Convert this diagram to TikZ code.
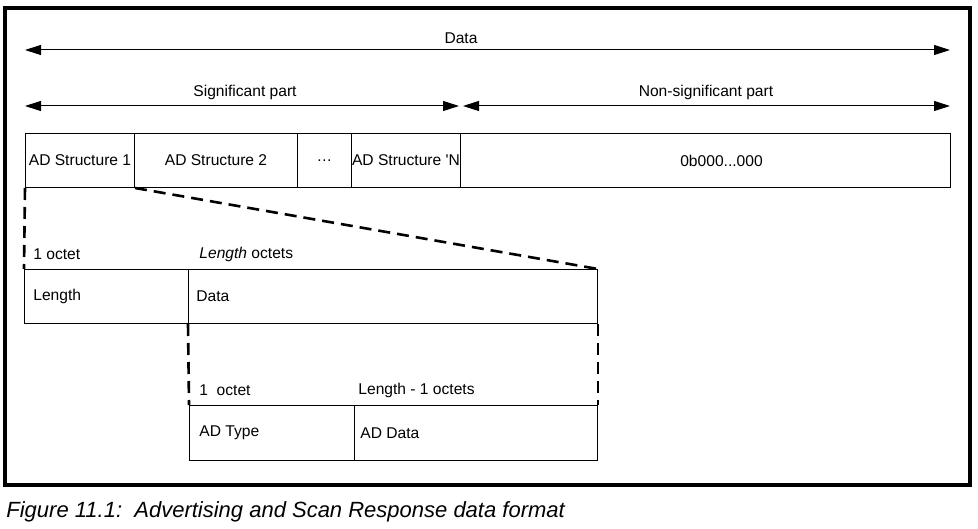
\documentclass[tikz,border=0pt]{standalone}
\usepackage{fontspec}
\setmainfont{Liberation Sans}
\usetikzlibrary{arrows.meta}
\tikzset{
  box/.style={draw,line width=0.5pt,inner sep=0pt,anchor=north west,font=\fontsize{7.8}{9}\selectfont},
  lbl/.style={anchor=west,inner sep=0pt,font=\fontsize{7.8}{9}\selectfont},
  zoomline/.style={line width=1.3pt,dash pattern=on 6pt off 3.5pt},
  span/.style={{Triangle[length=8pt,width=5pt]}-{Triangle[length=8pt,width=5pt]},line width=0.5pt}
}
\begin{document}
\begin{tikzpicture}[x=0.5pt,y=-0.5pt]
\useasboundingbox (0,0) rectangle (978,529);
%frame
\draw[line width=1.6pt] (5,8) rectangle (970,485);
%spans
\coordinate (dl) at (25,50);
\coordinate (dr) at (950,50);
\coordinate (sl) at (25,106);
\coordinate (sr) at (459,106);
\coordinate (nl) at (463,106);
\coordinate (nr) at (950,106);
\draw[span] (dl) -- (dr);
\draw[span] (sl) -- (sr);
\draw[span] (nl) -- (nr);
\node[lbl,anchor=center] (tdata) at (461,38) {Data};
\node[lbl,anchor=center] (tsig) at (245,92) {Significant part};
\node[lbl,anchor=center] (tnon) at (706,92) {Non-significant part};
% top row
\foreach \n/\x/\w/\t in {s1/25/109/{AD Structure 1}, s2/134/163/{AD Structure 2}, dots/297/54/{\dots}, sN/351/109/{AD Structure \textquotesingle N}, pad/460/490/{\hspace{16pt}0b000...000}}{
  \node[box,minimum width=\w*0.5pt,minimum height=27pt] (\n) at (\x,133) {\t};
}
% middle row
\node[box,minimum width=82pt,minimum height=27pt] (len) at (24,269) {};
\node[box,minimum width=204.5pt,minimum height=27pt] (dat) at (188,269) {};
\node[lbl] (tlen) at ([xshift=4.5pt]len.west) {Length};
\node[lbl] (tdat) at ([xshift=4pt]dat.west) {Data};
\node[lbl] (o1) at (33,254) {1 octet};
\node[lbl] (olen) at (199,254) {\itshape Length\upshape{} octets};
% bottom row
\node[box,minimum width=82.5pt,minimum height=27.5pt] (typ) at (189,405) {};
\node[box,minimum width=121.5pt,minimum height=27.5pt] (add) at (354,405) {};
\node[lbl] (ttyp) at ([xshift=5pt]typ.west) {AD Type};
\node[lbl] (tadd) at ([xshift=3pt]add.west) {AD Data};
\node[lbl] (o2) at (199,390) {1\ \ octet};
\node[lbl] (olen2) at (358,390) {Length - 1 octets};
% zoom lines
\draw[zoomline] (s1.south west) -- (len.north west);
\draw[zoomline] (s1.south east) -- (dat.north east);
\draw[zoomline] (dat.south west) -- (typ.north west);
\draw[zoomline] (dat.south east) -- (add.north east);
%caption
\node[anchor=west,inner sep=0pt,font=\itshape\fontsize{11}{13}\selectfont] (cap) at (6,512) {Figure 11.1:\ \ Advertising and Scan Response data format};
\end{tikzpicture}
\end{document}
